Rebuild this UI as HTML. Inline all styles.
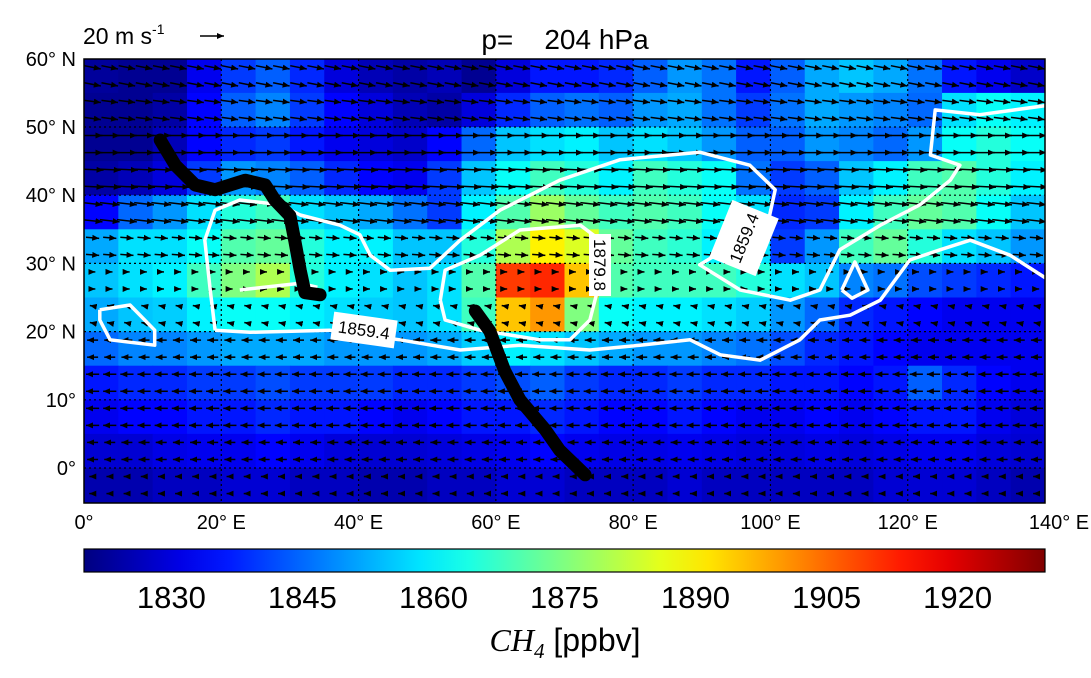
<!DOCTYPE html>
<html><head><meta charset="utf-8">
<style>
body{margin:0;background:#fff;width:1091px;height:678px;overflow:hidden;font-family:"Liberation Sans",sans-serif}
svg{position:absolute;left:0;top:0}
</style></head>
<body>
<svg id="chart" width="1091" height="678">
<defs>
<marker id="ah" markerWidth="8" markerHeight="8" refX="7" refY="3.5" orient="auto" markerUnits="userSpaceOnUse"><path d="M0,0.5 L7,3.5 L0,6.5 z" fill="#000"/></marker>
<clipPath id="mapclip"><rect x="84" y="59" width="961" height="444"/></clipPath>
<linearGradient id="jet" x1="0" x2="1" y1="0" y2="0"></linearGradient>
</defs>
<g id="heat" clip-path="url(#mapclip)"></g>
<g id="grid"></g>
<g id="arrows" clip-path="url(#mapclip)"></g>
<g id="contours" clip-path="url(#mapclip)"></g>
<g id="track" clip-path="url(#mapclip)"></g>
<g id="labels"></g>
<rect x="84" y="59" width="961" height="444" fill="none" stroke="#000" stroke-width="1.5"/>
<g id="axes" font-size="20" fill="#000"></g>
<text x="565" y="49" font-size="28" text-anchor="middle" style="white-space:pre" xml:space="preserve">p=    204 hPa</text>
<g>
<text x="83" y="44" font-size="23">20 m s<tspan font-size="14" dy="-10">-1</tspan></text>
<line x1="200" y1="36" x2="224" y2="36" stroke="#000" stroke-width="1.6" marker-end="url(#ah)"/>
</g>
<rect x="84" y="549" width="961" height="23" fill="url(#jet)" stroke="#000" stroke-width="1.2"/>
<g id="cbticks" font-size="31" text-anchor="middle"></g>
<text x="565" y="651" font-size="32" text-anchor="middle"><tspan font-family="Liberation Serif" font-style="italic">CH</tspan><tspan font-family="Liberation Serif" font-style="italic" font-size="21" dy="7">4</tspan><tspan dy="-7"> [ppbv]</tspan></text>
</svg>
<script>
const lonTicks=[0,20,40,60,80,100,120,140];
const latTicks=[60,50,40,30,20,10,0];
const cbTicks=[1830,1845,1860,1875,1890,1905,1920];
const vmin=1820, vmax=1930;
const ch4=[
[1823,1822,1822,1832,1840,1844,1838,1830,1826,1824,1826,1822,1830,1836,1836,1838,1844,1850,1846,1836,1844,1852,1855,1852,1846,1836,1832,1828],
[1822,1822,1824,1834,1844,1848,1840,1834,1830,1826,1824,1830,1838,1844,1846,1844,1850,1852,1846,1840,1846,1852,1850,1848,1845,1858,1862,1860],
[1822,1822,1826,1834,1838,1840,1836,1832,1830,1828,1834,1845,1855,1858,1860,1855,1858,1855,1850,1844,1844,1850,1848,1845,1850,1862,1865,1862],
[1824,1826,1830,1840,1850,1848,1844,1838,1834,1832,1840,1855,1862,1868,1865,1860,1868,1865,1862,1846,1840,1844,1855,1860,1868,1870,1865,1860],
[1834,1845,1850,1858,1865,1868,1858,1855,1852,1846,1840,1860,1870,1878,1872,1868,1870,1868,1862,1858,1838,1840,1860,1868,1872,1870,1862,1855],
[1852,1858,1858,1862,1870,1872,1865,1860,1860,1855,1855,1865,1880,1890,1885,1872,1868,1866,1860,1858,1840,1850,1868,1872,1865,1858,1855,1850],
[1855,1858,1860,1868,1875,1880,1865,1860,1858,1855,1858,1870,1910,1912,1895,1870,1868,1868,1868,1865,1858,1855,1848,1846,1842,1840,1838,1836],
[1852,1855,1856,1860,1862,1862,1860,1858,1856,1855,1858,1868,1895,1900,1875,1862,1860,1860,1858,1856,1850,1845,1838,1836,1834,1832,1832,1832],
[1845,1848,1848,1850,1852,1852,1852,1850,1850,1850,1852,1856,1860,1858,1855,1852,1850,1850,1848,1846,1842,1838,1836,1834,1832,1832,1832,1832],
[1836,1838,1838,1840,1840,1842,1840,1840,1840,1838,1838,1840,1842,1844,1840,1838,1838,1840,1838,1838,1836,1836,1834,1836,1844,1838,1834,1832],
[1832,1834,1834,1836,1836,1838,1836,1836,1834,1832,1834,1836,1836,1838,1836,1834,1834,1836,1834,1832,1832,1834,1832,1834,1836,1836,1832,1830],
[1829,1829,1831,1832,1832,1834,1832,1830,1829,1829,1830,1831,1832,1834,1832,1831,1831,1832,1831,1830,1830,1831,1830,1831,1832,1832,1830,1829],
[1825,1825,1827,1827,1829,1829,1827,1827,1825,1825,1827,1827,1829,1829,1827,1827,1827,1829,1827,1827,1827,1827,1827,1829,1829,1829,1827,1825]];
const windU=[15,15,18,20,18,12,5,-5,-10,-12,-12,-10,-6];
const windV=[-3,-2,0,-1,-2,-1,0,1,0,0,0,0,0];
const outerContour=[[19.1,20.2],[18.4,26.0],[17.6,33.4],[19.1,37.8],[22.7,39.3],[28.6,38.6],[31.5,37.1],[37.3,35.6],[40.2,34.2],[41.7,31.2],[44.6,29.0],[50.4,29.3],[54.8,33.4],[60.6,37.8],[69.3,42.2],[78.1,45.2],[89.7,46.3],[97.0,44.4],[100.7,40.8],[99.9,37.1],[95.6,33.4],[89.7,29.8],[95.6,26.1],[102.9,24.6],[107.2,26.1],[110.1,32.0],[116.0,35.6],[121.8,38.6],[126.2,42.2],[127.6,44.4],[123.3,45.9],[124.0,52.5],[130.5,51.8],[140.5,53.2],[140.5,27.6],[134.9,31.2],[129.1,33.4],[124.7,32.0],[120.3,30.5],[116.0,24.6],[111.6,22.4],[107.2,21.7],[104.3,18.8],[98.5,15.8],[92.7,16.6],[88.3,18.8],[81.0,18.0],[73.7,17.3],[63.5,18.0],[54.8,17.3],[46.0,18.8],[35.8,20.2],[24.2,19.9],[19.1,20.2]];
const leftLoop=[[2.3,23.2],[6.7,23.9],[10.3,20.2],[10.3,18.0],[3.8,18.8],[2.3,21.7],[2.3,23.2]];
const innerContour=[[51.9,24.6],[52.6,29.0],[57.7,31.2],[63.5,34.9],[72.3,35.6],[75.2,33.4],[75.2,27.6],[73.7,21.7],[70.8,18.8],[66.4,18.8],[57.7,20.2],[52.6,21.7],[51.9,24.6]];
const leftInner=[[22.7,26.1],[31.5,27.1],[34,26.5]];
const smallLoop=[[110.4,26.1],[112.3,30.2],[114.2,26.1],[111.9,24.9],[110.4,26.1]];
const track1=[[11.1,48.1],[13.3,44.4],[16.2,41.5],[19.1,40.8],[23.5,42.2],[26.4,41.5],[27.8,39.3],[30.0,37.0],[30.7,33.4],[31.5,29.0],[32.2,25.7],[34.4,25.4]];
const track2=[[57.0,23.0],[59.1,20.1],[61.3,14.2],[63.5,10.0],[67.2,5.6],[69.3,2.6],[73.0,-1.0]];

const NS='http://www.w3.org/2000/svg';
const X=lon=>84+lon*961/140;
const Y=lat=>468-lat*6.82;
const C=v=>84+(v-vmin)/(vmax-vmin)*961;
function jet(t){t=Math.max(0,Math.min(1,t));
 const f=x=>Math.max(0,Math.min(1,x));
 const r=f(Math.min(4*t-1.5,-4*t+4.5)),g=f(Math.min(4*t-0.5,-4*t+3.5)),b=f(Math.min(4*t+0.5,-4*t+2.5));
 return `rgb(${Math.round(r*255)},${Math.round(g*255)},${Math.round(b*255)})`;}
function mk(tag,attrs,parent){const e=document.createElementNS(NS,tag);for(const k in attrs)e.setAttribute(k,attrs[k]);parent.appendChild(e);return e;}

const heat=document.getElementById('heat');
ch4.forEach((row,i)=>row.forEach((v,j)=>{
 const lat1=60-i*5,lon0=j*5;
 const r=mk('rect',{x:X(lon0),y:Y(lat1),width:X(lon0+5)-X(lon0)+0.5,height:Y(lat1-5)-Y(lat1)+0.5,fill:jet((v-vmin)/(vmax-vmin))},heat);
 
 
}));

const grid=document.getElementById('grid');
[20,40,60,80,100,120].forEach(l=>{const e=mk('line',{x1:X(l),x2:X(l),y1:59,y2:503,stroke:'#000','stroke-dasharray':'2,3','stroke-width':1.2},grid);
 });
[50,40,30,20,10,0].forEach(l=>{const e=mk('line',{x1:84,x2:1045,y1:Y(l),y2:Y(l),stroke:'#000','stroke-dasharray':'2,3','stroke-width':1.2},grid);
 });

const arr=document.getElementById('arrows');
const scale=22/20;
for(let i=0;i<26;i++){const lat=58.75-i*2.5;const b=Math.floor(i/2);
 for(let j=0;j<56;j++){const lon=1.25+j*2.5;
  const u=windU[b],v=windV[b];
  const x=X(lon),y=Y(lat);
  const a=mk('line',{x1:x-u*scale/2,y1:y+v*scale/2,x2:x+u*scale/2,y2:y-v*scale/2,stroke:'#000','stroke-width':1.5,'marker-end':'url(#ah)'},arr);
  
  
 }}

const pts=a=>a.map(p=>X(p[0]).toFixed(1)+','+Y(p[1]).toFixed(1)).join(' ');
const cg=document.getElementById('contours');
[[outerContour,'contour-1859-4'],[leftLoop,'contour-1859-4-west'],[innerContour,'contour-1879-8'],[leftInner,'contour-inner-west'],[smallLoop,'contour-small-east']].forEach(([d,n])=>{
 const p=mk('polyline',{points:pts(d),fill:'none',stroke:'#fff','stroke-width':3.5,'stroke-linejoin':'round'},cg);
 
 
});
const tg=document.getElementById('track');
[track1,track2].forEach(d=>{
 const p=mk('polyline',{points:pts(d),fill:'none',stroke:'#000','stroke-width':13,'stroke-linejoin':'round','stroke-linecap':'round'},tg);
 
 
});

const lg=document.getElementById('labels');
function clabel(x,y,w,h,rot,txt){const g=mk('g',{transform:`translate(${x},${y}) rotate(${rot})`},lg);
 
 
 mk('rect',{x:-w/2,y:-h/2,width:w,height:h,fill:'#fff'},g);
 const t=mk('text',{x:0,y:6,'font-size':17,'text-anchor':'middle'},g);t.textContent=txt;}
clabel(364,330,64,28,8,'1859.4');
clabel(600,265,62,22,90,'1879.8');
clabel(744,238,62,50,-68,'1859.4');

const ax=document.getElementById('axes');
lonTicks.forEach(l=>{const t=mk('text',{x:X(l)+(l==140?14:0),y:529,'text-anchor':'middle'},ax);t.textContent=l==0?'0°':l+'° E';
 });
latTicks.forEach(l=>{const t=mk('text',{x:76,y:Y(l)+7,'text-anchor':'end'},ax);t.textContent=l==0?'0°':(l==10?'10°':l+'° N');
 });

const grad=document.getElementById('jet');
for(let k=0;k<=20;k++){mk('stop',{offset:k/20,'stop-color':jet(k/20)},grad);}
const cb=document.getElementById('cbticks');
cbTicks.forEach(v=>{const t=mk('text',{x:C(v),y:608},cb);t.textContent=v;
 });
</script>
</body></html>
